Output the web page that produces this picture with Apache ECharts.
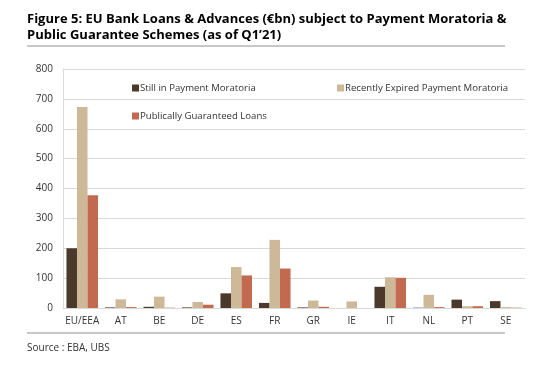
<!DOCTYPE html>
<html><head><meta charset="utf-8">
<script src="https://cdn.jsdelivr.net/npm/echarts@6/dist/echarts.min.js"></script>
<style>html,body{margin:0;padding:0;background:#fff}#c{width:553px;height:387px}</style>
</head><body><div id="c"></div>
<script>
const categories = ['EU/EEA','AT','BE','DE','ES','FR','GR','IE','IT','NL','PT','SE'];
const stillInMoratoria = [200, 2, 4, 2, 49, 17, 2, 0, 71, 1, 28, 23];
const recentlyExpired = [673, 29, 38, 20, 137, 228, 25, 22, 103, 44, 6, 3];
const publicGuaranteed = [377, 3, 1, 11, 109, 132, 4, 0, 101, 3, 6, 1];
const seriesNames = ['Still in Payment Moratoria','Recently Expired Payment Moratoria','Publically Guaranteed Loans'];
const yTicks = {min:0, max:800, interval:100};

const colors = ['#4b3a2c','#cdb998','#c26a4f'];
const font = '"Open Sans", "Noto Sans", sans-serif';
const chart = echarts.init(document.getElementById('c'));
const mkLegend = (name, left, top) => ({
  data:[name], left:left, top:top, itemWidth:7, itemHeight:7, itemGap:0,
  icon:'rect', textStyle:{fontFamily:font, fontSize:9.6, color:'#333', padding:[0,0,0,-4]}
});
chart.setOption({
  animation:false,
  color: colors,
  grid:{left:63, right:28, top:69, bottom:79},
  legend:[mkLegend(seriesNames[0],127,78), mkLegend(seriesNames[1],332,78), mkLegend(seriesNames[2],127,106)],
  xAxis:{type:'category', data:categories,
    axisLine:{show:true, lineStyle:{color:'#d9d9d9'}}, axisTick:{show:false},
    axisLabel:{fontFamily:font, fontSize:10, color:'#333', margin:8, interval:0}},
  yAxis:{type:'value', min:yTicks.min, max:yTicks.max, interval:yTicks.interval,
    axisLine:{show:true, lineStyle:{color:'#d9d9d9'}}, axisTick:{show:false},
    splitLine:{lineStyle:{color:'#d9d9d9'}},
    axisLabel:{fontFamily:font, fontSize:10, color:'#333', margin:10}},
  series:[
    {name:seriesNames[0], type:'bar', data:stillInMoratoria, barGap:'0%', barCategoryGap:'18%'},
    {name:seriesNames[1], type:'bar', data:recentlyExpired, barGap:'0%', barCategoryGap:'18%'},
    {name:seriesNames[2], type:'bar', data:publicGuaranteed, barGap:'0%', barCategoryGap:'18%'}
  ],
  graphic:[
    {type:'text', left:27, top:13, style:{text:'Figure 5: EU Bank Loans & Advances (€bn) subject to Payment Moratoria &', font:'bold 13px "Open Sans", sans-serif', fill:'#000'}},
    {type:'text', left:27, top:29, style:{text:'Public Guarantee Schemes (as of Q1\u201921)', font:'bold 13px "Open Sans", sans-serif', fill:'#000'}},
    {type:'rect', shape:{x:27, y:45, width:478, height:2}, style:{fill:'#c8c8c8'}},
    {type:'rect', shape:{x:27, y:332, width:478, height:2}, style:{fill:'#c8c8c8'}},
    {type:'text', left:27, top:343, style:{text:'Source : EBA, UBS', font:'10px "Open Sans", sans-serif', fill:'#333'}}
  ]
});
</script></body></html>
